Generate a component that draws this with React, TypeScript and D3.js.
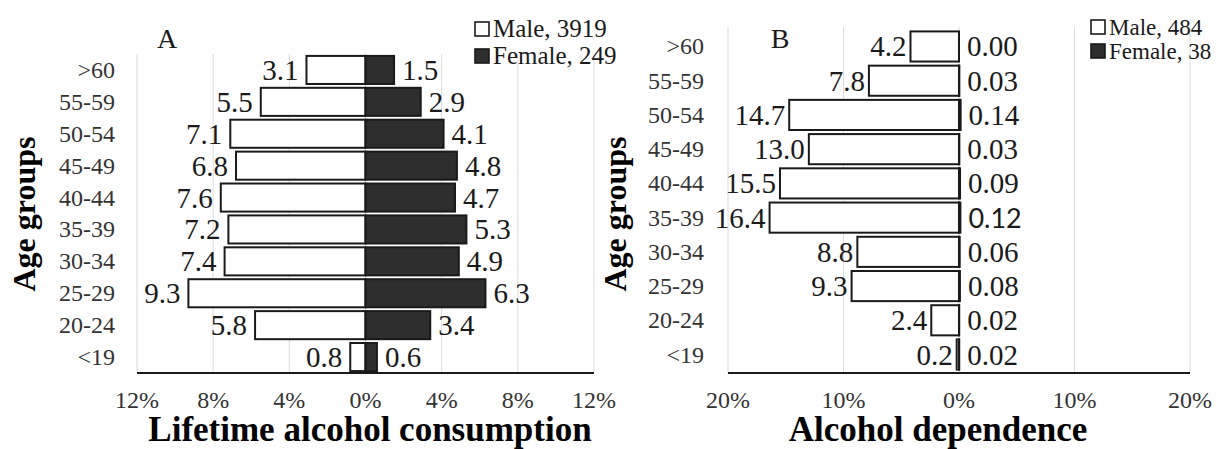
import React from 'react';
import * as d3 from 'd3';

// age groups, top to bottom
const ageGroups = ['>60', '55-59', '50-54', '45-49', '40-44', '35-39', '30-34', '25-29', '20-24', '<19'];

// A: lifetime alcohol consumption (%)
const lifetimeMale = [3.1, 5.5, 7.1, 6.8, 7.6, 7.2, 7.4, 9.3, 5.8, 0.8];
const lifetimeFemale = [1.5, 2.9, 4.1, 4.8, 4.7, 5.3, 4.9, 6.3, 3.4, 0.6];
const lifetimeTicks = [-12, -8, -4, 0, 4, 8, 12];
const lifetimeLegend = ['Male, 3919', 'Female, 249'];

// B: alcohol dependence (%)
const dependenceMale = [4.2, 7.8, 14.7, 13.0, 15.5, 16.4, 8.8, 9.3, 2.4, 0.2];
const dependenceFemale = [0.0, 0.03, 0.14, 0.03, 0.09, 0.12, 0.06, 0.08, 0.02, 0.02];
const dependenceTicks = [-20, -10, 0, 10, 20];
const dependenceLegend = ['Male, 484', 'Female, 38'];

const width = 1225;
const height = 449;
const serif = { fontFamily: "'Liberation Serif', 'Times New Roman', Times, serif" };
const sans = { fontFamily: "Lato, 'Open Sans', sans-serif" };
const ink = '#1a1a1a';
const femaleFill = '#2e2e2e';
const gridColor = '#dcdcdc';

type PanelProps = {
  letter: string;
  letterX: number;
  title: string;
  titleX: number;
  ylabelX: number;
  catRight: number;
  xDomain: number;
  xRange: [number, number];
  gridTop: number;
  yRange: [number, number];
  paddingOuter: number;
  male: number[];
  female: number[];
  ticks: number[];
  maleDigits: number;
  femaleDigits: number;
  maleGap: number;
  legend: string[];
  legendX: number;
  legendRows: number[];
  legendSize: number;
  sansFemaleIndex?: number;
};

const Panel: React.FC<PanelProps> = (p) => {
  const x = d3.scaleLinear().domain([-p.xDomain, p.xDomain]).range(p.xRange);
  const y = d3.scaleBand<string>()
    .domain(ageGroups)
    .range(p.yRange)
    .paddingInner(0.12)
    .paddingOuter(p.paddingOuter);
  const bw = y.bandwidth();
  const axisY = p.yRange[1];
  const x0 = x(0);

  return (
    <g>
      {/* gridlines */}
      {p.ticks.map((t) => (
        <line key={`g${t}`} x1={x(t)} x2={x(t)} y1={p.gridTop} y2={axisY}
          stroke={gridColor} strokeWidth={1} />
      ))}

      {/* male bars (left) */}
      {ageGroups.map((a, i) => (
        <rect key={`m${a}`} x={x(-p.male[i])} y={y(a)!} width={x0 - x(-p.male[i])} height={bw}
          fill="#fff" stroke={ink} strokeWidth={2} />
      ))}
      {/* female bars (right) */}
      {ageGroups.map((a, i) => (
        <rect key={`f${a}`} x={x0} y={y(a)!} width={Math.max(0, x(p.female[i]) - x0)} height={bw}
          fill={femaleFill} stroke={ink} strokeWidth={2} />
      ))}

      {/* value labels */}
      {ageGroups.map((a, i) => (
        <text key={`ml${a}`} x={x(-p.male[i]) - p.maleGap} y={y(a)! + bw / 2 + 10}
          textAnchor="end" style={serif} fontSize={29} fill={ink}>
          {p.male[i].toFixed(p.maleDigits)}
        </text>
      ))}
      {ageGroups.map((a, i) => {
        const isSans = p.sansFemaleIndex === i;
        return (
          <text key={`fl${a}`} x={x(p.female[i]) + 8} y={y(a)! + bw / 2 + 10}
            textAnchor="start" style={isSans ? sans : serif}
            fontSize={isSans ? 27 : 29} fill={ink}>
            {p.female[i].toFixed(p.femaleDigits)}
          </text>
        );
      })}

      {/* bottom axis line */}
      <line x1={p.xRange[0]} x2={p.xRange[1]} y1={axisY} y2={axisY} stroke={ink} strokeWidth={2} />

      {/* tick labels */}
      {p.ticks.map((t) => (
        <text key={`t${t}`} x={x(t)} y={408} textAnchor="middle" style={serif}
          fontSize={24} fill="#333">
          {`${Math.abs(t)}%`}
        </text>
      ))}

      {/* category labels */}
      {ageGroups.map((a) => (
        <text key={`c${a}`} x={p.catRight} y={y(a)! + bw / 2 + 8} textAnchor="end"
          style={serif} fontSize={24} fill="#333">
          {a}
        </text>
      ))}

      {/* axis titles */}
      <text x={p.titleX} y={441} textAnchor="middle" style={serif} fontSize={35}
        fontWeight="bold" fill="#000">
        {p.title}
      </text>
      <text transform={`translate(${p.ylabelX},214) rotate(-90)`} textAnchor="middle"
        style={serif} fontSize={32} fontWeight="bold" fill="#000">
        Age groups
      </text>

      {/* panel letter */}
      <text x={p.letterX} y={48} textAnchor="middle" style={serif} fontSize={28} fill={ink}>
        {p.letter}
      </text>

      {/* legend */}
      {p.legend.map((l, i) => (
        <g key={l} transform={`translate(${p.legendX},${p.legendRows[i]})`}>
          <rect x={0} y={-7} width={14} height={14} fill={i === 0 ? '#fff' : femaleFill}
            stroke={ink} strokeWidth={1.6} />
          <text x={18} y={p.legendSize * 0.33} style={serif} fontSize={p.legendSize} fill={ink}>{l}</text>
        </g>
      ))}
    </g>
  );
};

const App: React.FC = () => {
  return (
    <svg width={width} height={height} style={{ position: 'absolute', left: 0, top: 0, background: '#fff' }}>
      <Panel
        letter="A" letterX={167}
        title="Lifetime alcohol consumption" titleX={370}
        ylabelX={35} catRight={115}
        xDomain={12} xRange={[137, 594]}
        gridTop={54} yRange={[54, 373]} paddingOuter={0.06}
        male={lifetimeMale} female={lifetimeFemale} ticks={lifetimeTicks}
        maleDigits={1} femaleDigits={1} maleGap={8}
        legend={lifetimeLegend} legendX={475} legendRows={[29, 56]} legendSize={25}
      />
      <Panel
        letter="B" letterX={780}
        title="Alcohol dependence" titleX={938}
        ylabelX={626} catRight={704}
        xDomain={20} xRange={[728, 1190]}
        gridTop={27} yRange={[28, 373]} paddingOuter={0.1}
        male={dependenceMale} female={dependenceFemale} ticks={dependenceTicks}
        maleDigits={1} femaleDigits={2} maleGap={4}
        legend={dependenceLegend} legendX={1091} legendRows={[27, 51]} legendSize={23}
        sansFemaleIndex={5}
      />
    </svg>
  );
};

export default App;
